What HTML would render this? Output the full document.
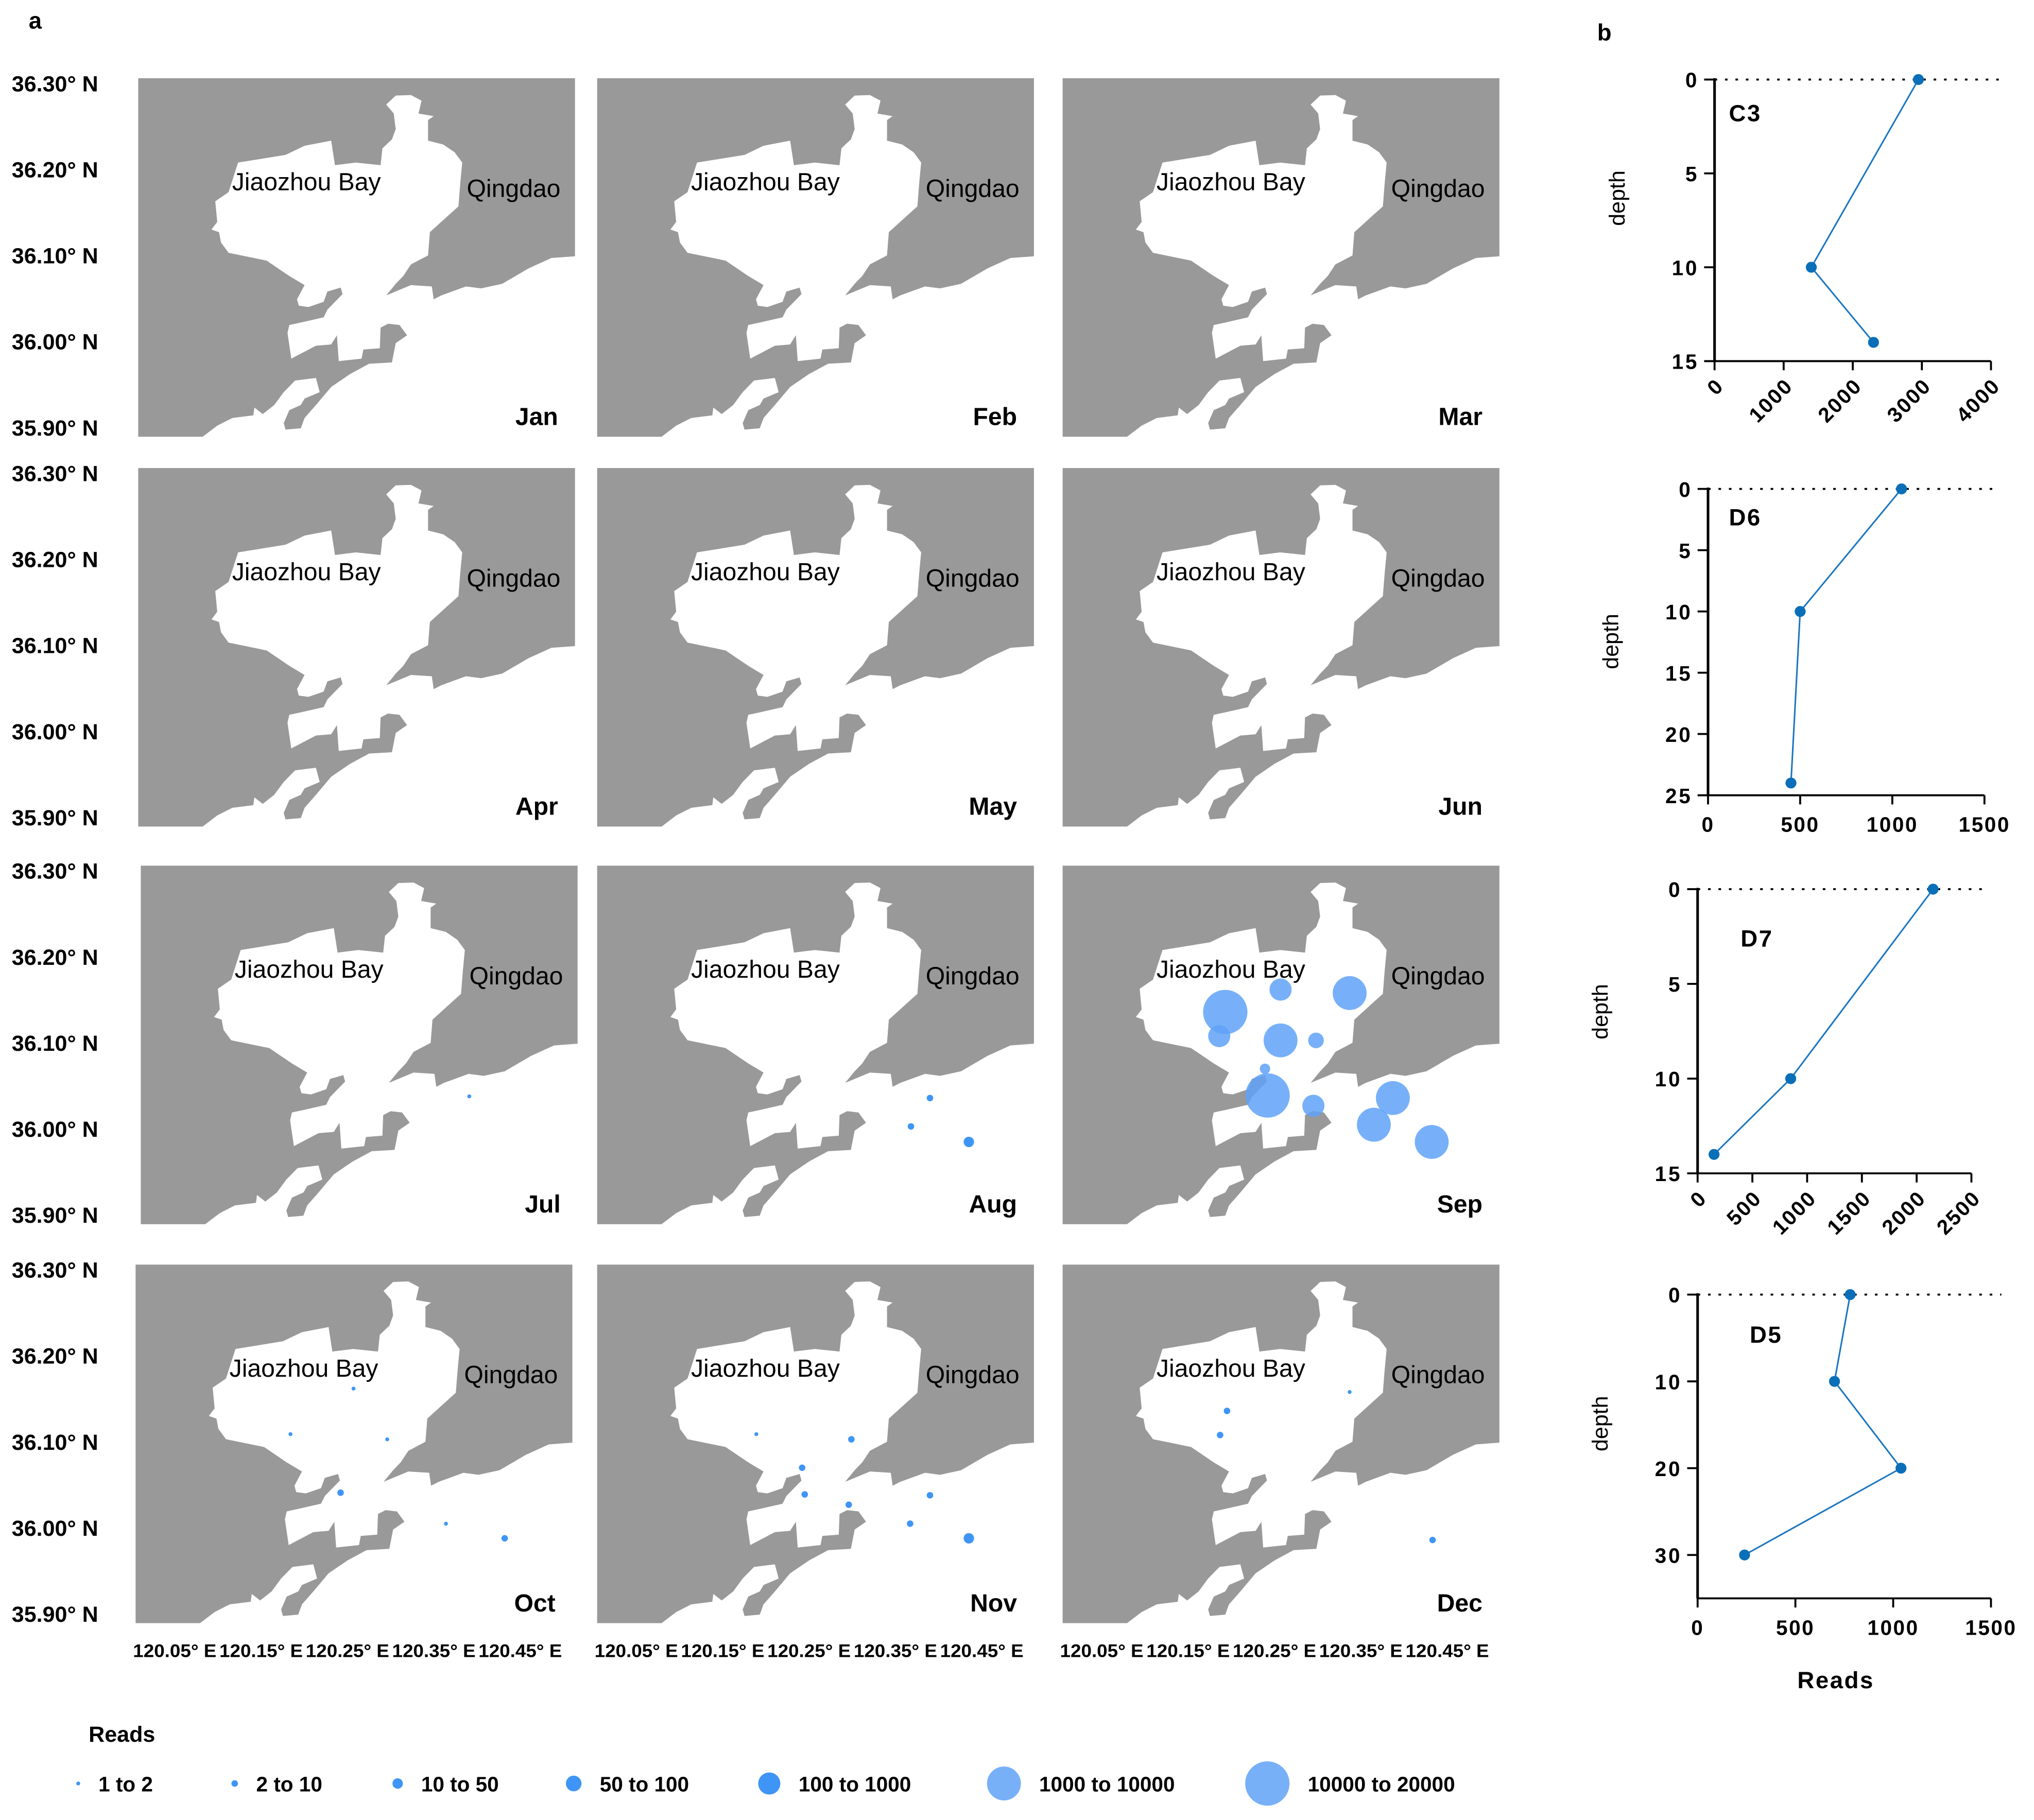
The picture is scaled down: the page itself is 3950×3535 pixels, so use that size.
<!DOCTYPE html>
<html><head><meta charset="utf-8"><style>
html,body{margin:0;padding:0;background:#fff;}
svg{display:block;font-family:"Liberation Sans",Arial,sans-serif;}
</style></head><body>
<svg id="fig" xmlns="http://www.w3.org/2000/svg" width="3950" height="3535" viewBox="0 0 1560 1396" preserveAspectRatio="none">
<rect width="1560" height="1396" fill="#fff"/>
<text x="22" y="22" font-size="18" font-weight="bold">a</text>
<text x="1225" y="31" font-size="18" font-weight="bold">b</text>
<g id="maps"></g>
<g id="legend"></g>
<g id="charts"></g>
</svg>
<script>
const NS='http://www.w3.org/2000/svg';
const months=['Jan','Feb','Mar','Apr','May','Jun','Jul','Aug','Sep','Oct','Nov','Dec'];
const latTicks=['36.30° N','36.20° N','36.10° N','36.00° N','35.90° N'];
const lonTicks=['120.05° E','120.15° E','120.25° E','120.35° E','120.45° E'];
const legendLabels=['1 to 2','2 to 10','10 to 50','50 to 100','100 to 1000','1000 to 10000','10000 to 20000'];
// sample points: [monthIndex, lon, lat, readsCategory]
const samples=[
[6,120.385,36.038,0],
[7,120.390,36.036,1],[7,120.368,36.003,1],[7,120.435,35.985,2],
[8,120.193,36.136,6],[8,120.257,36.162,4],[8,120.337,36.158,5],[8,120.186,36.108,4],[8,120.257,36.103,5],[8,120.298,36.103,3],[8,120.239,36.070,2],[8,120.242,36.039,6],[8,120.295,36.027,4],[8,120.387,36.036,5],[8,120.365,36.005,5],[8,120.432,35.985,5],
[9,120.257,36.162,0],[9,120.184,36.109,0],[9,120.296,36.103,0],[9,120.242,36.041,1],[9,120.364,36.005,0],[9,120.432,35.988,1],
[10,120.189,36.109,0],[10,120.299,36.103,1],[10,120.242,36.070,1],[10,120.245,36.039,1],[10,120.296,36.027,1],[10,120.390,36.038,1],[10,120.367,36.005,1],[10,120.435,35.988,2],
[11,120.195,36.136,1],[11,120.187,36.108,1],[11,120.337,36.158,0],[11,120.433,35.986,1]
];
const catR=[1.5,2.5,4,6,8.5,13,17];
const catC=['#3f95f5','#3f95f5','#3f95f5','#3f95f5','#3f95f5','#78b0f8','#78b0f8'];
const water=[[1040,170],[1080,168],[1108,190],[1100,240],[1140,250],[1125,265],[1125,345],[1165,360],[1195,390],[1215,430],[1210,510],[1205,600],[1175,640],[1130,700],[1125,790],[1080,825],[1060,870],[1040,900],[1015,945],[1080,905],[1135,910],[1140,960],[1160,945],[1225,910],[1265,918],[1320,900],[1390,840],[1450,800],[1515,793],[1515,1495],[530,1495],[570,1450],[610,1420],[665,1410],[668,1380],[690,1405],[720,1370],[745,1320],[775,1275],[830,1265],[840,1320],[800,1345],[790,1370],[760,1390],[745,1440],[750,1465],[790,1460],[800,1420],[830,1370],[870,1300],[920,1250],[970,1210],[1030,1205],[1040,1130],[1070,1100],[1050,1060],[1020,1055],[1000,1070],[998,1150],[955,1155],[950,1190],[890,1200],[885,1100],[870,1135],[830,1140],[765,1190],[755,1090],[760,1060],[790,1050],[850,1030],[860,1000],[900,940],[895,915],[860,930],[850,970],[810,990],[785,985],[780,960],[800,905],[760,870],[700,810],[600,780],[580,740],[575,700],[555,690],[570,660],[565,580],[600,545],[625,430],[750,400],[800,365],[870,345],[880,440],[935,430],[1000,440],[1005,375],[1030,340],[1040,300],[1035,240],[1015,205]];
const colX=[106,458,815], rowY=[60,359,664,970], PW=335, PH=275;
function mk(tag,attrs,parent){const e=document.createElementNS(NS,tag);for(const k in attrs)e.setAttribute(k,attrs[k]);parent.appendChild(e);return e;}
const maps=document.getElementById('maps');
const lonX=(px,lon)=>px+30+(lon-120.05)/0.4*265;
const latY=(py,lat)=>py+4+(36.30-lat)/0.4*264;
for(let m=0;m<12;m++){
  const r=Math.floor(m/3),c=m%3,px=colX[c]+(m===6?2:(m===9?-2:0)),py=rowY[r];
  const g=mk('g',{},maps);
  
  
  mk('rect',{x:px,y:py,width:PW,height:PH,fill:'#999999'},g);
  const pts=water.map(p=>((px+(p[0]-362)/1150*PW).toFixed(1)+','+(py+(p[1]-103)/1390*PH).toFixed(1))).join(' ');
  mk('polygon',{points:pts,fill:'#fff'},g);
  const t1=mk('text',{x:px+72,y:py+86,'font-size':19},g);t1.textContent='Jiaozhou Bay';
  
  const t2=mk('text',{x:px+252,y:py+91,'font-size':19},g);t2.textContent='Qingdao';
  
  const t3=mk('text',{x:px+PW-13,y:py+PH-9,'font-size':19,'font-weight':'bold','text-anchor':'end'},g);t3.textContent=months[m];
  
  if(c===0){latTicks.forEach((l,i)=>{const t=mk('text',{x:9,y:py+10+i*66,'font-size':17,'font-weight':'bold'},maps);t.textContent=l;
    });}
  if(r===3){lonTicks.forEach((l,i)=>{const t=mk('text',{x:px+30+i*66.25,y:1271,'font-size':14,'font-weight':'bold','text-anchor':'middle',textLength:64,lengthAdjust:'spacingAndGlyphs'},maps);t.textContent=l;
    });}
  samples.filter(s=>s[0]===m).forEach(s=>{
    const ci=mk('circle',{cx:lonX(px,s[1]),cy:latY(py,s[2]),r:catR[s[3]],fill:m===8?'#5fa2f8':catC[s[3]],'fill-opacity':m===8?0.85:1},g);
    
  });
}
// legend
const lg=document.getElementById('legend');
const lt=mk('text',{x:68,y:1336,'font-size':17,'font-weight':'bold'},lg);lt.textContent='Reads';
const legX=[60,180,305,440,590,770,972];
legendLabels.forEach((l,i)=>{
  const ci=mk('circle',{cx:legX[i],cy:1368,r:catR[i],fill:catC[i]},lg);
  
  const t=mk('text',{x:legX[i]+catR[i]+14,y:1374,'font-size':16,'font-weight':'bold'},lg);t.textContent=l;
  
});
// depth profiles
const c3Reads=[2950,1400,2300], c3Depth=[0,10,14];
const d6Reads=[1050,500,450], d6Depth=[0,10,24];
const d7Reads=[2150,850,150], d7Depth=[0,10,14];
const d5Reads=[780,700,1040,240], d5Depth=[0,10,20,30];
const c3XT=[0,1000,2000,3000,4000], c3YT=[0,5,10,15];
const d6XT=[0,500,1000,1500], d6YT=[0,5,10,15,20,25];
const d7XT=[0,500,1000,1500,2000,2500], d7YT=[0,5,10,15];
const d5XT=[0,500,1000,1500], d5YT=[0,10,20,30];
const chartsG=document.getElementById('charts');
function chart(name,x0,x1,y0,y1,xmax,ymax,xt,yt,rx,dy,rot,labX,labY,depthY){
  const g=mk('g',{},chartsG);
  
  const sx=v=>x0+v/xmax*(x1-x0), sy=v=>y0+v/ymax*(y1-y0);
  mk('line',{x1:x0,y1:y0,x2:x1+8,y2:y0,stroke:'#000','stroke-width':1.5,'stroke-dasharray':'2,6'},g);
  mk('line',{x1:x0,y1:y0-1,x2:x0,y2:y1,stroke:'#000','stroke-width':2},g);
  mk('line',{x1:x0,y1:y1,x2:x1,y2:y1,stroke:'#000','stroke-width':1.5},g);
  yt.forEach(v=>{mk('line',{x1:x0-8,y1:sy(v),x2:x0,y2:sy(v),stroke:'#000','stroke-width':1.5},g);
    const t=mk('text',{x:x0-12,y:sy(v)+6,'font-size':16,'font-weight':'bold','text-anchor':'end','letter-spacing':1.5},g);t.textContent=v;
    });
  xt.forEach(v=>{mk('line',{x1:sx(v),y1:y1,x2:sx(v),y2:y1+7,stroke:'#000','stroke-width':1.5},g);
    let t;
    if(rot){t=mk('text',{x:sx(v)+8,y:y1+20,'font-size':16,'font-weight':'bold','text-anchor':'end','letter-spacing':1,transform:'rotate(-45 '+(sx(v)+8)+' '+(y1+20)+')'},g);}
    else{t=mk('text',{x:sx(v),y:y1+28,'font-size':16,'font-weight':'bold','text-anchor':'middle','letter-spacing':1},g);}
    t.textContent=v;});
  const pts=rx.map((v,i)=>sx(v)+','+sy(dy[i])).join(' ');
  const pl=mk('polyline',{points:pts,fill:'none',stroke:'#1a75c0','stroke-width':1.2},g);
  
  rx.forEach((v,i)=>{const ci=mk('circle',{cx:sx(v),cy:sy(dy[i]),r:4.2,fill:'#0a6fb8'},g);
    });
  const nt=mk('text',{x:labX,y:labY,'font-size':18,'font-weight':'bold','letter-spacing':1},g);nt.textContent=name;
  
  const dt=mk('text',{x:0,y:0,'font-size':17,'text-anchor':'middle',transform:'translate('+(x0-69)+' '+depthY+') rotate(-90)'},g);dt.textContent='depth';
  
}
chart('C3',1315,1527,61,277,4000,15,c3XT,c3YT,c3Reads,c3Depth,true,1326,93,152);
chart('D6',1310,1522,375,610,1500,25,d6XT,d6YT,d6Reads,d6Depth,false,1326,403,492);
chart('D7',1302,1512,682,900,2500,15,d7XT,d7YT,d7Reads,d7Depth,true,1335,726,776);
chart('D5',1302,1527,993,1226,1500,35,d5XT,d5YT,d5Reads,d5Depth,false,1342,1030,1092);
const rt=mk('text',{x:1408,y:1295,'font-size':18,'font-weight':'bold','text-anchor':'middle','letter-spacing':1},chartsG);rt.textContent='Reads';

</script>
</body></html>
